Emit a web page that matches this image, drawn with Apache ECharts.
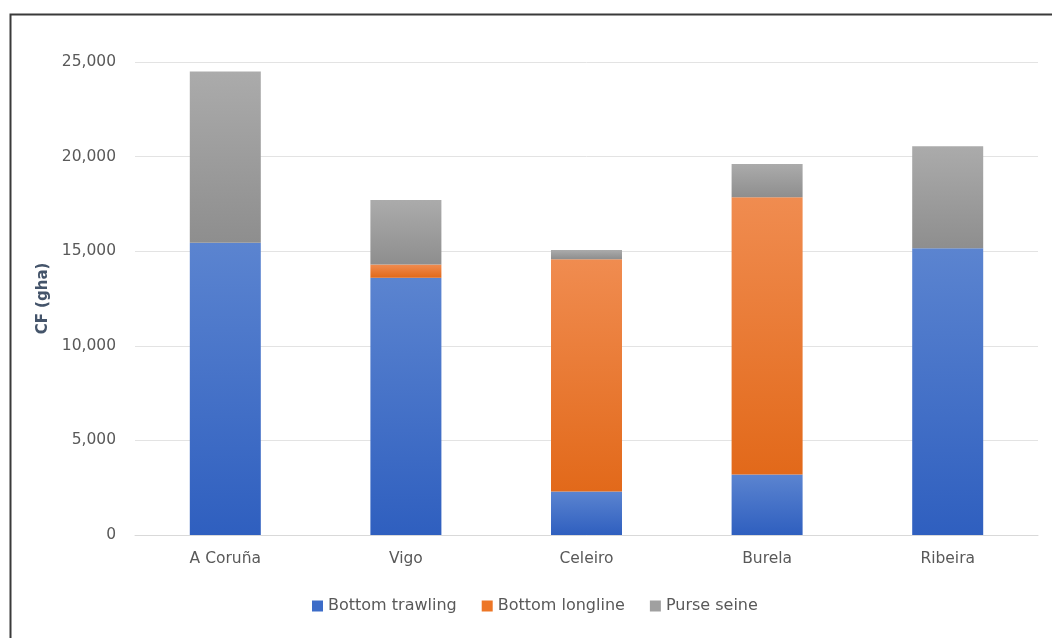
<!DOCTYPE html>
<html>
<head>
<meta charset="utf-8">
<script src="https://cdn.jsdelivr.net/npm/echarts@6/dist/echarts.min.js"></script>
<style>
html,body{margin:0;padding:0;background:#fff;}
#c{width:1052px;height:638px;}
</style>
</head>
<body>
<div id="c"></div>
<script>
const categories = ['A Coruña', 'Vigo', 'Celeiro', 'Burela', 'Ribeira'];
const bottomTrawling = [15450, 13600, 2300, 3200, 15150];
const bottomLongline = [0, 700, 12280, 14650, 0];
const purseSeine = [9050, 3400, 480, 1760, 5400];
const seriesNames = ['Bottom trawling', 'Bottom longline', 'Purse seine'];
const yTicks = [0, 5000, 10000, 15000, 20000, 25000];

function grad(top, bottom) {
  return new echarts.graphic.LinearGradient(0, 0, 0, 1, [
    {offset: 0, color: top}, {offset: 1, color: bottom}
  ]);
}
const FONT = '"DejaVu Sans", sans-serif';
const chart = echarts.init(document.getElementById('c'), null, {renderer: 'canvas'});
const mk = (name, data, top, bottom) => ({
  name: name, type: 'bar', stack: 'total', data: data, barWidth: 71,
  itemStyle: {color: grad(top, bottom)},
  emphasis: {disabled: true}
});
chart.setOption({
  backgroundColor: '#ffffff',
  animation: false,
  graphic: [{
    type: 'rect', left: 8, top: 12, z: 100, silent: true,
    shape: {x: 0, y: 0, width: 1100, height: 700},
    style: {fill: 'none', stroke: '#3a3a3a', lineWidth: 2}
  }],
  grid: {left: 135, right: 14, top: 62, bottom: 103, containLabel: false},
  legend: {
    bottom: 19, left: 307,
    itemWidth: 11, itemHeight: 11, itemGap: 25,
    icon: 'rect',
    textStyle: {color: '#595959', fontSize: 16, fontFamily: FONT},
    data: [
      {name: seriesNames[0], itemStyle: {color: '#3c6cc8'}},
      {name: seriesNames[1], itemStyle: {color: '#ed7626'}},
      {name: seriesNames[2], itemStyle: {color: '#a0a0a0'}}
    ]
  },
  xAxis: {
    type: 'category', data: categories,
    axisTick: {show: false},
    axisLine: {lineStyle: {color: '#d9d9d9'}},
    axisLabel: {color: '#595959', fontSize: 15.5, fontFamily: FONT, margin: 16}
  },
  yAxis: {
    type: 'value', min: yTicks[0], max: yTicks[yTicks.length - 1], interval: 5000,
    name: 'CF (gha)', nameLocation: 'middle', nameGap: 84, nameRotate: 90,
    nameTextStyle: {color: '#44546a', fontSize: 15, fontWeight: 'bold', fontFamily: FONT},
    axisLine: {show: false}, axisTick: {show: false},
    splitLine: {lineStyle: {color: '#e3e3e3', width: 1}},
    axisLabel: {
      color: '#595959', fontSize: 15.5, fontFamily: FONT, margin: 19,
      formatter: v => v.toLocaleString('en-US')
    }
  },
  series: [
    mk(seriesNames[0], bottomTrawling, '#5b84d0', '#2f5fbf'),
    mk(seriesNames[1], bottomLongline, '#f08c50', '#e2691a'),
    mk(seriesNames[2], purseSeine, '#ababab', '#8e8e8e')
  ]
});
</script>
</body>
</html>
